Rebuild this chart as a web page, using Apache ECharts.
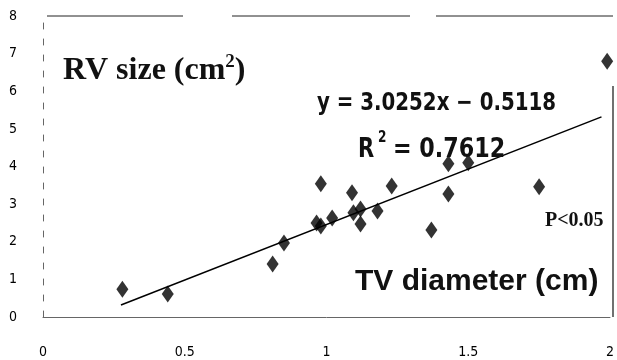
<!DOCTYPE html>
<html><head><meta charset="utf-8">
<script src="https://cdn.jsdelivr.net/npm/echarts@6/dist/echarts.min.js"></script>
<style>html,body{margin:0;padding:0;background:#fff}#c{width:617px;height:360px}</style>
</head><body><div id="c"></div>
<script>
// TV diameter (cm) vs RV size (cm2)
const tvDiameter = [0.28, 0.44, 0.81, 0.85, 0.965, 0.98, 0.98, 1.02, 1.09, 1.095, 1.12, 1.12, 1.18, 1.23, 1.37, 1.43, 1.50, 1.43, 1.75, 1.99];
const rvSize     = [0.74, 0.61, 1.41, 1.97, 2.50, 2.42, 3.54, 2.63, 3.30, 2.77, 2.87, 2.47, 2.82, 3.48, 2.31, 4.07, 4.10, 3.27, 3.46, 6.80];
// Trendline endpoints as drawn in the figure
const trendX = [0.275, 1.97];
const trendY = [0.32, 5.32];
const xTickLabels = ['0', '0.5', '1', '1.5', '2'];
const yTickLabels = ['0', '1', '2', '3', '4', '5', '6', '7', '8'];

const condensed = "'DejaVu Sans Condensed', 'Liberation Sans Narrow', 'DejaVu Sans', sans-serif";
const serif = "'Liberation Serif', 'DejaVu Serif', serif";
const sans = "'Liberation Sans', Arial, sans-serif";

const chart = echarts.init(document.getElementById('c'), null, {renderer: 'canvas'});
chart.setOption({
  animation: false,
  backgroundColor: '#ffffff',
  grid: {left: 43, right: 4, top: 16, bottom: 43},
  xAxis: {
    type: 'value', min: 0, max: 2, interval: 0.5,
    axisLine: {show: true, lineStyle: {color: '#666', width: 1}},
    axisTick: {show: false},
    splitLine: {show: false},
    axisLabel: {
      margin: 28, color: '#000', fontSize: 14, fontFamily: condensed,
      formatter: v => xTickLabels[Math.round(v / 0.5)]
    }
  },
  yAxis: {
    type: 'value', min: 0, max: 8, interval: 1,
    axisLine: {show: true, lineStyle: {color: '#666', width: 1, type: [6, 10]}},
    axisTick: {show: false},
    splitLine: {show: false},
    axisLabel: {
      margin: 26, color: '#000', fontSize: 14, fontFamily: condensed,
      padding: [10, 0, 0, 0],
      formatter: v => yTickLabels[Math.round(v)]
    }
  },
  series: [
    {
      type: 'line',
      data: trendX.map((x, i) => [x, trendY[i]]),
      showSymbol: false,
      lineStyle: {color: '#000', width: 1.5},
      z: 2
    },
    {
      type: 'scatter',
      data: tvDiameter.map((x, i) => [x, rvSize[i]]),
      symbol: 'diamond',
      symbolSize: [12, 17],
      itemStyle: {color: '#000'},
      z: 3
    }
  ],
  graphic: [
    {type: 'line', shape: {x1: 47, y1: 16, x2: 183, y2: 16}, style: {stroke: '#222', lineWidth: 1}},
    {type: 'line', shape: {x1: 232, y1: 16, x2: 410, y2: 16}, style: {stroke: '#222', lineWidth: 1}},
    {type: 'line', shape: {x1: 436, y1: 16, x2: 613, y2: 16}, style: {stroke: '#222', lineWidth: 1}},
    {type: 'line', shape: {x1: 613, y1: 86, x2: 613, y2: 317}, style: {stroke: '#111', lineWidth: 1.2}},
    {
      type: 'text', left: 63, top: 53, z: 10,
      style: {
        rich: {
          a: {fontFamily: serif, fontWeight: 'bold', fontSize: 32, fill: '#111'},
          s: {fontFamily: serif, fontWeight: 'bold', fontSize: 19, fill: '#111', verticalAlign: 'top', padding: [0, 0, 16, 0]}
        },
        text: '{a|RV size (cm}{s|2}{a|)}'
      }
    },
    {
      type: 'text', x: 317, y: 91, scaleX: 0.88, z: 10,
      style: {text: 'y = 3.0252x \u2212 0.5118', fontFamily: condensed, fontWeight: 'bold', fontSize: 25, fill: '#111'}
    },
    {
      type: 'text', x: 358, y: 137, scaleX: 0.9, z: 10,
      style: {text: 'R', fontFamily: condensed, fontWeight: 'bold', fontSize: 26, fill: '#111'}
    },
    {
      type: 'text', x: 378, y: 131, scaleX: 0.9, z: 10,
      style: {text: '2', fontFamily: condensed, fontWeight: 'bold', fontSize: 15, fill: '#111'}
    },
    {
      type: 'text', x: 393, y: 137, scaleX: 0.95, z: 10,
      style: {text: '= 0.7612', fontFamily: condensed, fontWeight: 'bold', fontSize: 26, fill: '#111'}
    },
    {
      type: 'text', left: 545, top: 211, z: 10,
      style: {text: 'P<0.05', fontFamily: serif, fontWeight: 'bold', fontSize: 20, fill: '#111'}
    },
    {
      type: 'text', left: 355, top: 267, z: 10,
      style: {text: 'TV diameter (cm)', fontFamily: sans, fontWeight: 'bold', fontSize: 30, fill: '#111'}
    }
  ]
});
</script>
</body></html>
